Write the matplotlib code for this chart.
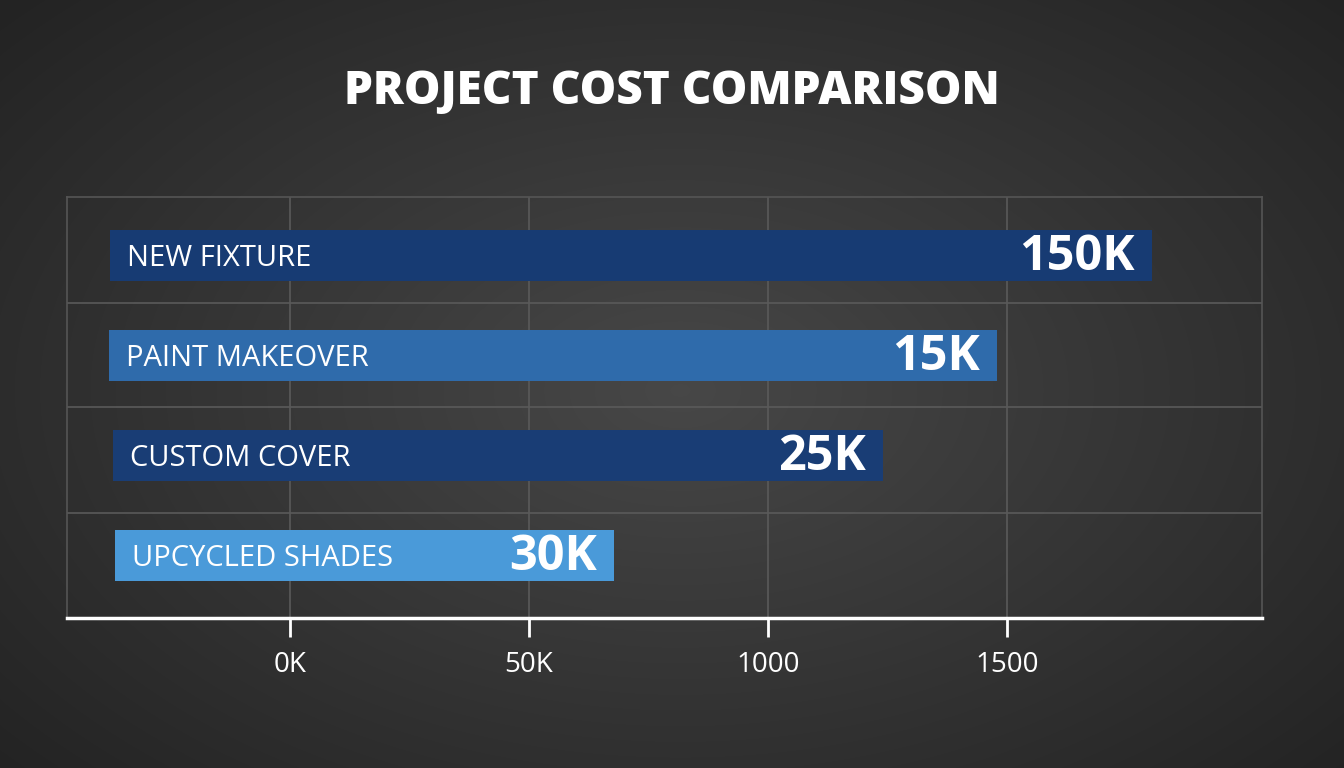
import matplotlib.pyplot as plt
import numpy as np

# values (axis units: tick "0K" = 0, "50K" = 500, ...)
categories = ['NEW FIXTURE', 'PAINT MAKEOVER', 'CUSTOM COVER', 'UPCYCLED SHADES']
value_labels = ['150K', '15K', '25K', '30K']
bar_start = [-377, -379, -370, -366]
bar_end = [1803, 1479, 1241, 678]
bar_colors = ['#173b73', '#2f6bab', '#193d75', '#4a9ad9']
tick_pos = [0, 500, 1000, 1500]
tick_labels = ['0K', '50K', '1000', '1500']

fig = plt.figure(figsize=(13.44, 7.68), dpi=100)

# dark vignette background
bg = fig.add_axes([0, 0, 1, 1], zorder=-10)
yy, xx = np.mgrid[0:768, 0:1344]
r = np.sqrt(((xx - 680) / 900) ** 2 + ((yy - 390) / 560) ** 2)
shade = np.clip(0.28 - 0.14 * r, 0.14, 0.28)
bg.imshow(np.dstack([shade, shade, shade]), aspect='auto', extent=[0, 1, 0, 1])
bg.axis('off')

ax = fig.add_axes([67 / 1344, 1 - 618 / 768, 1195 / 1344, 421 / 768])
ax.set_facecolor('none')

y = np.arange(len(categories))
widths = [e - s for s, e in zip(bar_start, bar_end)]
ax.barh(y, widths, left=bar_start, height=0.51, color=bar_colors, zorder=3)

for i in range(len(categories)):
    ax.text(bar_start[i] + 35, y[i] + 0.04, categories[i], color='white', fontsize=21,
            family='Open Sans', va='center', ha='left', zorder=4)
    ax.text(bar_end[i] - 35, y[i] + 0.03, value_labels[i], color='white', fontsize=35,
            family='Open Sans', weight='bold', va='center', ha='right', zorder=4)

ax.set_xlim(-466.5, 2033.5)
ax.set_ylim(3.63, -0.58)
ax.set_xticks(tick_pos)
ax.set_xticklabels(tick_labels, family='Open Sans', fontsize=20, color='white')
ax.set_yticks([])
ax.set_yticks([0.48, 1.52, 2.58], minor=True)
ax.tick_params(axis='y', which='both', length=0)
ax.tick_params(axis='x', length=14, width=2, color='white', pad=10)
ax.grid(True, axis='x', color='#5a5a5a', linewidth=1.2, zorder=1)
ax.grid(True, axis='y', which='minor', color='#5a5a5a', linewidth=1.2, zorder=1)

for side in ['top', 'left', 'right']:
    ax.spines[side].set_color('#555555')
    ax.spines[side].set_linewidth(1.2)
ax.spines['bottom'].set_color('white')
ax.spines['bottom'].set_linewidth(2.5)

fig.text(0.5, 1 - 92 / 768, 'PROJECT COST COMPARISON', color='white', fontsize=33,
         family='Open Sans', weight='heavy', ha='center', va='center')

fig.savefig('out.png', dpi=100)
